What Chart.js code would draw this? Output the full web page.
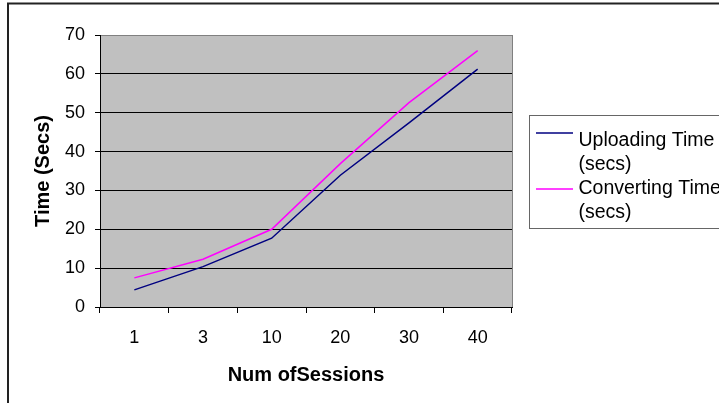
<!DOCTYPE html>
<html>
<head>
<meta charset="utf-8">
<script src="https://cdn.jsdelivr.net/npm/chart.js@4/dist/chart.umd.min.js"></script>
<style>
  html, body { margin: 0; padding: 0; background: #fff; }
  #wrap { position: relative; width: 719px; height: 403px; overflow: hidden; }
</style>
</head>
<body>
<div id="wrap"><canvas id="sessionChart" width="719" height="403"></canvas></div>
<script>
const sessions = ["1", "3", "10", "20", "30", "40"];
const uploadingTime = [4.4, 10.4, 17.7, 33.9, 47.4, 61.2];
const convertingTime = [7.5, 12.3, 20.0, 36.9, 52.6, 66.0];
const legendLines = [["Uploading Time", "(secs)"], ["Converting Time", "(secs)"]];

const FONT = "'Liberation Sans', Arial, sans-serif";

// grey plot background, frame round the whole chart, and the boxed legend
const chartDecor = {
    id: "chartDecor",
    beforeDraw(chart) {
        const { ctx, chartArea: a } = chart;
        ctx.save();
        ctx.fillStyle = "#c0c0c0";
        ctx.fillRect(a.left, a.top, a.right - a.left, a.bottom - a.top);
        ctx.restore();
    },
    afterDraw(chart) {
        const { ctx, chartArea: a } = chart;
        ctx.save();
        ctx.strokeStyle = "#808080";
        ctx.lineWidth = 1;
        ctx.beginPath();
        ctx.moveTo(Math.round(a.right) + 0.5, a.top);
        ctx.lineTo(Math.round(a.right) + 0.5, a.bottom);
        ctx.stroke();

        ctx.strokeStyle = "#222";
        ctx.lineWidth = 2;
        ctx.strokeRect(8, 3.5, 800, 500);

        ctx.strokeStyle = "#666";
        ctx.lineWidth = 1;
        ctx.strokeRect(529.5, 115.5, 300, 113);

        ctx.font = "19.5px " + FONT;
        ctx.fillStyle = "#000";
        ctx.textBaseline = "alphabetic";
        const lineY = [133, 189];
        const baseY = [[145.5, 170], [194, 218]];
        chart.data.datasets.forEach((ds, i) => {
            ctx.strokeStyle = ds.borderColor;
            ctx.lineWidth = 1.5;
            ctx.beginPath();
            ctx.moveTo(536, lineY[i]);
            ctx.lineTo(573, lineY[i]);
            ctx.stroke();
            legendLines[i].forEach((t, j) => ctx.fillText(t, 578.5, baseY[i][j]));
        });
        ctx.restore();
    }
};

new Chart(document.getElementById("sessionChart"), {
    type: "line",
    data: {
        labels: sessions,
        datasets: [
            { label: "Uploading Time (secs)", data: uploadingTime, borderColor: "#000080", borderWidth: 1.5, pointRadius: 0, tension: 0 },
            { label: "Converting Time (secs)", data: convertingTime, borderColor: "#ff00ff", borderWidth: 1.5, pointRadius: 0, tension: 0 }
        ]
    },
    options: {
        responsive: false,
        animation: false,
        layout: { padding: { top: 35, right: 207, left: 0, bottom: 0 } },
        plugins: { legend: { display: false }, tooltip: { enabled: false } },
        scales: {
            x: {
                offset: true,
                afterFit(scale) { scale.height = 96; },
                grid: { offset: true, drawOnChartArea: false, tickLength: 6, tickColor: "#000" },
                border: { color: "#000" },
                ticks: { color: "#000", padding: 14, font: { family: FONT, size: 18 } },
                title: { display: true, text: "Num ofSessions", color: "#000", padding: { bottom: 16 }, font: { family: FONT, size: 20, weight: "bold" } }
            },
            y: {
                min: 0,
                max: 70,
                afterFit(scale) { scale.width = 100; },
                grid: { color: c => (c.tick && c.tick.value === 70 ? "#808080" : "#000"), tickLength: 5, tickColor: "#000" },
                border: { color: "#000" },
                ticks: { stepSize: 10, color: "#000", padding: 10, font: { family: FONT, size: 18 } },
                title: { display: true, text: "Time (Secs)", color: "#000", padding: { top: 31 }, font: { family: FONT, size: 20, weight: "bold" } }
            }
        }
    },
    plugins: [chartDecor]
});
</script>
</body>
</html>
